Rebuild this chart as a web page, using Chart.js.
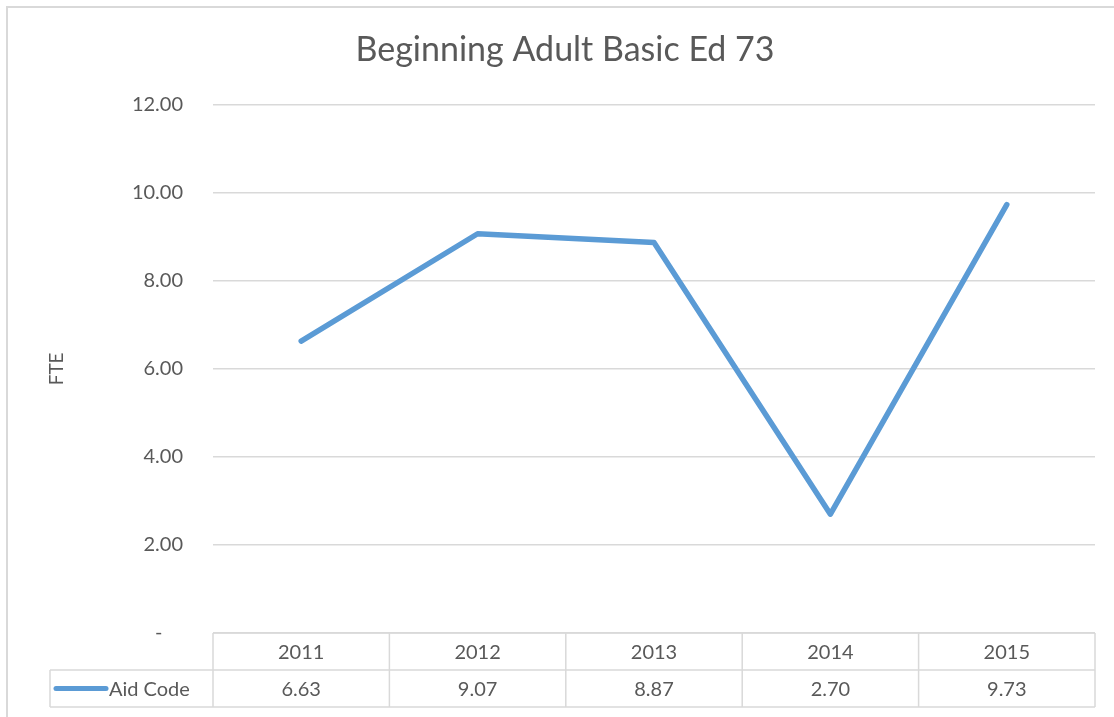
<!DOCTYPE html>
<html>
<head>
<meta charset="utf-8">
<script src="https://cdn.jsdelivr.net/npm/chart.js@4/dist/chart.umd.min.js"></script>
<style>
  html, body { margin: 0; padding: 0; background: #fff; }
  #wrap { width: 1114px; height: 717px; }
</style>
</head>
<body>
<div id="wrap"><canvas id="fteChart" width="1114" height="717"></canvas></div>
<script>
const years = ['2011', '2012', '2013', '2014', '2015'];
const aidCode = [6.63, 9.07, 8.87, 2.70, 9.73];
const seriesName = 'Aid Code';
const yTicks = [0, 2, 4, 6, 8, 10, 12];

const lineColor = '#5B9BD5';
const gridColor = '#d9d9d9';
const textColor = '#595959';
const fontFamily = 'Lato, "Open Sans", sans-serif';

// draws the outer frame and the data table under the plot
const dataTable = {
    id: 'dataTable',
    afterDraw(chart) {
        const ctx = chart.ctx;
        const area = chart.chartArea;
        const x = chart.scales.x;
        const colW = area.width / years.length;
        const rowH = 37;
        const top = area.bottom;
        const legendLeft = 50;

        ctx.save();
        // outer chart border
        ctx.strokeStyle = gridColor;
        ctx.lineWidth = 2;
        ctx.beginPath();
        ctx.moveTo(7, 717);
        ctx.lineTo(7, 7);
        ctx.lineTo(1114, 7);
        ctx.stroke();

        ctx.lineWidth = 1.5;
        ctx.beginPath();
        // horizontal lines
        ctx.moveTo(area.left, top);
        ctx.lineTo(area.right, top);
        ctx.moveTo(legendLeft, top + rowH);
        ctx.lineTo(area.right, top + rowH);
        ctx.moveTo(legendLeft, top + rowH * 2);
        ctx.lineTo(area.right, top + rowH * 2);
        // vertical lines
        ctx.moveTo(legendLeft, top + rowH);
        ctx.lineTo(legendLeft, top + rowH * 2);
        for (let i = 0; i <= years.length; i++) {
            const cx = area.left + i * colW;
            ctx.moveTo(cx, top);
            ctx.lineTo(cx, top + rowH * 2);
        }
        ctx.stroke();

        ctx.fillStyle = textColor;
        ctx.font = '20px ' + fontFamily;
        ctx.textAlign = 'center';
        ctx.textBaseline = 'middle';
        years.forEach((yr, i) => {
            const cx = x.getPixelForValue(i);
            ctx.fillText(yr, cx, top + rowH / 2 + 1);
            ctx.fillText(aidCode[i].toFixed(2), cx, top + rowH * 1.5 + 1);
        });

        // legend key in the table
        ctx.strokeStyle = lineColor;
        ctx.lineWidth = 5;
        ctx.lineCap = 'round';
        ctx.beginPath();
        ctx.moveTo(56, top + rowH * 1.5);
        ctx.lineTo(106, top + rowH * 1.5);
        ctx.stroke();
        ctx.textAlign = 'left';
        ctx.fillText(seriesName, 109, top + rowH * 1.5 + 1);
        ctx.restore();
    }
};

const ctx = document.getElementById('fteChart').getContext('2d');
new Chart(ctx, {
    type: 'line',
    data: {
        labels: years,
        datasets: [{
            label: seriesName,
            data: aidCode,
            borderColor: lineColor,
            borderWidth: 5.5,
            borderCapStyle: 'round',
            borderJoinStyle: 'round',
            pointRadius: 0,
            fill: false,
            tension: 0
        }]
    },
    options: {
        responsive: false,
        animation: false,
        devicePixelRatio: 1,
        // left padding a bit larger so the title centres like the original
        layout: { padding: { left: 35, right: 19, top: 0, bottom: 84 } },
        plugins: {
            legend: { display: false },
            tooltip: { enabled: false },
            title: {
                display: true,
                text: 'Beginning Adult Basic Ed 73',
                color: textColor,
                font: { family: fontFamily, size: 34, weight: 'normal' },
                padding: { top: 30, bottom: 34 }
            }
        },
        scales: {
            x: {
                display: false,
                offset: true
            },
            y: {
                min: 0,
                max: 12,
                afterBuildTicks(scale) {
                    scale.ticks = yTicks.map(v => ({ value: v }));
                },
                afterFit(scale) {
                    scale.width = 178;
                },
                border: { display: false },
                grid: { color: gridColor, lineWidth: 1.5, drawTicks: false },
                ticks: {
                    color: textColor,
                    padding: 30,
                    font: { family: fontFamily, size: 20 },
                    callback: v => v === 0 ? '-    ' : v.toFixed(2)
                },
                title: {
                    display: true,
                    text: 'FTE',
                    color: textColor,
                    font: { family: fontFamily, size: 19 },
                    padding: { top: 10, bottom: 0 }
                }
            }
        }
    },
    plugins: [dataTable]
});
</script>
</body>
</html>
